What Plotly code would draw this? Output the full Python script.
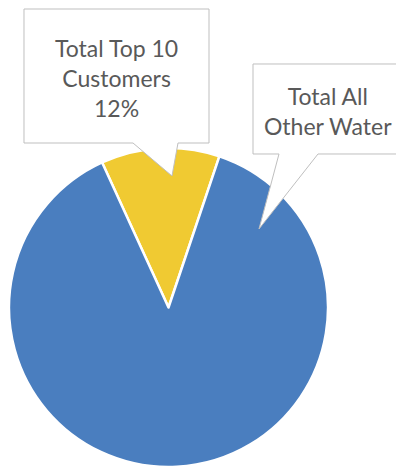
import plotly.graph_objects as go

labels = ["Total Top 10 Customers", "Total All Other Water"]
label_lines = [["Total Top 10", "Customers"], ["Total All", "Other Water"]]
values = [12, 88]
colors = ["#F0CA32", "#4A7EBF"]
show_pct = [True, False]

OFF = 8  # default page body margin
W, H = 404 - OFF, 470 - OFF

def px(x, y):
    # convert page pixel position to paper coordinates
    return (x - OFF) / W, 1 - (y - OFF) / H

dx0, dy0 = px(8, 467)
dx1, dy1 = px(329, 148)

fig = go.Figure(go.Pie(
    labels=labels, values=values, sort=False, direction="clockwise",
    rotation=-24.6, textinfo="none", hoverinfo="label+percent",
    marker=dict(colors=colors, line=dict(color="white", width=2.5)),
    domain=dict(x=[max(dx0, 0), dx1], y=[dy0, dy1]),
    showlegend=False,
))

total = sum(values)
# callout geometry in page pixels: box (x0, y0, x1, y1), pointer base (xa, xb), tip (tx, ty)
callouts = [
    dict(box=(24, 9, 209, 143), base=(133, 178), tip=(172, 176)),
    dict(box=(253, 64, 406, 154), base=(279, 318), tip=(259, 229)),
]

shapes = []
annotations = []
for i, c in enumerate(callouts):
    x0, y0, x1, y1 = c["box"]
    xa, xb = c["base"]
    tx, ty = c["tip"]
    pts = [(x0, y0), (x1, y0), (x1, y1), (xb, y1), (tx, ty), (xa, y1), (x0, y1)]
    path = "M " + " L ".join("%f,%f" % px(*p) for p in pts) + " Z"
    shapes.append(dict(type="path", xref="paper", yref="paper", path=path,
                       fillcolor="white", line=dict(color="#BFBFBF", width=1)))
    lines = list(label_lines[i])
    if show_pct[i]:
        lines.append("%d%%" % round(values[i] / total * 100))
    cx, cy = px((x0 + min(x1, 403)) / 2, (y0 + y1) / 2 + 2)
    annotations.append(dict(text="<br>".join(lines), x=cx, y=cy, xref="paper", yref="paper",
                            xanchor="center", yanchor="middle", showarrow=False,
                            font=dict(family="Lato", size=23, color="#595959")))

fig.update_layout(
    width=W, height=H, margin=dict(l=0, r=0, t=0, b=0),
    paper_bgcolor="white", plot_bgcolor="white",
    shapes=shapes, annotations=annotations,
)
fig.write_html("out.html")
